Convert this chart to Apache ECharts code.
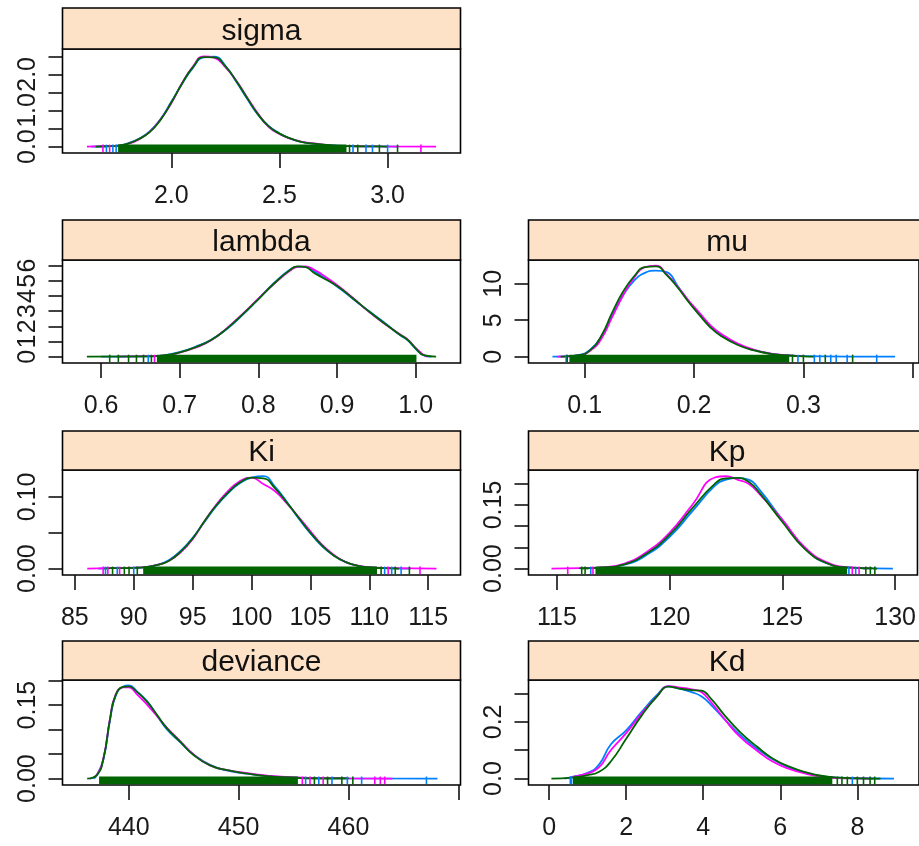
<!DOCTYPE html>
<html><head><meta charset="utf-8">
<script src="https://cdn.jsdelivr.net/npm/echarts@6/dist/echarts.min.js"></script>
<style>html,body{margin:0;padding:0;background:#fff}#c{width:919px;height:846px}</style>
</head><body><div id="c"></div><script>
// ---------- DATA ----------
const panelNames = ['sigma', 'lambda', 'mu', 'Ki', 'Kp', 'deviance', 'Kd'];
const chainColors = ['#0080ff', '#ff00ff', '#006400'];

// sigma
const sigmaX = [1.70,1.76,1.80,1.85,1.90,1.95,2.00,2.05,2.10,2.15,2.20,2.25,2.30,2.35,2.40,2.45,2.50,2.55,2.60,2.67,2.75,2.85,2.95];
const sigmaY = [
  [0.01,0.035,0.09,0.22,0.42,0.76,1.24,1.74,2.18,2.47,2.49,2.24,1.80,1.33,0.89,0.57,0.37,0.22,0.13,0.07,0.035,0.012,0.005],
  [0.012,0.03,0.075,0.20,0.41,0.75,1.20,1.76,2.22,2.50,2.46,2.20,1.83,1.37,0.92,0.55,0.35,0.22,0.14,0.08,0.03,0.01,0.006],
  [0.01,0.03,0.08,0.21,0.40,0.74,1.22,1.75,2.20,2.48,2.47,2.22,1.82,1.35,0.90,0.56,0.36,0.23,0.13,0.075,0.03,0.01,0.004]
];
const sigmaRange = [[1.63,3.05],[1.61,3.224],[1.65,3.0]];
const sigmaRugBand = [1.754, 2.81];
const sigmaRugTicks = [[1.684,1],[1.70,0],[1.715,1],[1.73,0],[1.745,0],[2.824,2],[2.84,0],[2.862,2],[2.90,0],[2.93,0],[2.962,2],[3.0,0],[3.046,2],[3.154,1]];
const sigmaXTicks = [2.0,2.5,3.0];
const sigmaYTicks = [0,0.5,1.0,1.5,2.0,2.5];
const sigmaYLabels = [0,1.0,2.0];

// lambda
const lambdaX = [0.66,0.68,0.70,0.72,0.74,0.76,0.78,0.80,0.82,0.84,0.85,0.86,0.87,0.88,0.90,0.92,0.94,0.96,0.98,0.99,1.00,1.01];
const lambdaY = [
  [0.02,0.09,0.30,0.65,1.12,1.82,2.75,3.80,4.85,5.72,5.93,5.92,5.65,5.32,4.62,3.82,3.02,2.25,1.42,1.08,0.52,0.10],
  [0.03,0.07,0.26,0.60,1.08,1.88,2.82,3.82,4.80,5.65,5.92,5.95,5.75,5.45,4.72,3.88,2.98,2.18,1.48,1.12,0.58,0.12],
  [0.02,0.08,0.28,0.62,1.10,1.85,2.78,3.78,4.82,5.70,5.95,5.90,5.55,5.25,4.65,3.85,3.00,2.20,1.45,1.10,0.55,0.10]
];
const lambdaRange = [[0.600,1.020],[0.620,1.015],[0.582,1.026]];
const lambdaRugBand = [0.671, 1.001];
const lambdaRugTicks = [[0.611,2],[0.622,2],[0.635,2],[0.645,2],[0.654,2],[0.660,0],[0.664,2],[0.668,1]];
const lambdaXTicks = [0.6,0.7,0.8,0.9,1.0];
const lambdaYTicks = [0,1,2,3,4,5,6];
const lambdaYLabels = [0,1,2,3,4,5,6];

// mu
const muX = [0.08,0.095,0.105,0.115,0.125,0.135,0.145,0.155,0.165,0.175,0.185,0.195,0.205,0.215,0.225,0.24,0.255,0.27,0.285,0.30];
const muY = [
  [0.03,0.25,0.95,2.7,5.6,8.4,10.4,11.5,11.8,11.6,9.7,7.6,5.8,4.2,3.0,1.7,0.9,0.4,0.2,0.08],
  [0.02,0.18,0.8,2.4,5.4,8.4,10.8,12.3,12.5,11.3,9.6,7.7,6.0,4.3,3.1,1.8,0.95,0.42,0.18,0.06],
  [0.02,0.2,0.9,2.8,6.0,8.9,11.0,12.3,12.4,11.2,9.5,7.5,5.7,4.0,2.8,1.6,0.85,0.38,0.16,0.05]
];
const muRange = [[0.0705,0.3838],[0.075,0.30],[0.078,0.31]];
const muRugBand = [0.086, 0.287];
const muRugTicks = [[0.083,0],[0.084,2],[0.29,2],[0.295,0],[0.30,2],[0.31,0],[0.315,0],[0.32,2],[0.325,0],[0.33,0],[0.34,0],[0.345,2],[0.367,0]];
const muXTicks = [0.1,0.2,0.3,0.4];
const muXLabels = [0.1,0.2,0.3];
const muYTicks = [0,5,10];
const muYLabels = [0,5,10];

// Ki
const KiX = [88,90,91,92,93,94,95,96,97,98,99,100,101,102,103,104,105,106,107,108,109,110,112];
const KiY = [
  [0.0005,0.001,0.002,0.005,0.012,0.025,0.043,0.065,0.087,0.105,0.119,0.127,0.129,0.114,0.093,0.070,0.049,0.031,0.018,0.009,0.004,0.0015,0.0003],
  [0.0006,0.0012,0.002,0.005,0.011,0.023,0.041,0.066,0.089,0.108,0.122,0.127,0.118,0.108,0.091,0.072,0.052,0.033,0.019,0.009,0.004,0.002,0.0005],
  [0.0005,0.001,0.002,0.005,0.011,0.024,0.042,0.066,0.088,0.106,0.120,0.127,0.126,0.112,0.092,0.071,0.050,0.032,0.018,0.009,0.004,0.0015,0.0003]
];
const KiRange = [[87,113.5],[86.05,115.7],[87.5,112.5]];
const KiRugBand = [90.8, 110.65];
const KiRugTicks = [[87.4,1],[87.6,0],[87.8,1],[88.2,2],[88.6,0],[88.8,1],[89.2,2],[89.6,2],[90.0,0],[90.3,2],[111.0,2],[111.3,0],[111.6,1],[111.9,0],[112.2,2],[112.7,0],[113.4,2],[114.3,1]];
const KiXTicks = [85,90,95,100,105,110,115];
const KiYTicks = [0,0.05,0.10];
const KiYLabels = [0,0.10];

// Kp
const KpX = [116,117,118,119,120,121,122,122.5,123,123.5,124,125,126,127,128,129];
const KpY = [
  [0.0005,0.002,0.009,0.033,0.075,0.135,0.195,0.210,0.214,0.210,0.185,0.115,0.048,0.012,0.002,0.0003],
  [0.0008,0.003,0.012,0.040,0.085,0.150,0.215,0.218,0.210,0.200,0.175,0.115,0.050,0.014,0.003,0.0005],
  [0.0005,0.002,0.010,0.036,0.080,0.142,0.200,0.213,0.214,0.205,0.178,0.110,0.046,0.012,0.002,0.0003]
];
const KpRange = [[116.2,129.9],[114.76,128.6],[116.4,129.2]];
const KpRugBand = [116.71, 127.87];
const KpRugTicks = [[115.48,1],[116.1,2],[116.25,2],[116.5,0],[116.6,1],[127.95,0],[128.1,1],[128.25,0],[128.4,1],[128.7,2],[128.9,2],[129.1,2]];
const KpXTicks = [115,120,125,130];
const KpYTicks = [0,0.05,0.10,0.15,0.20];
const KpYLabels = [0,0.15];

// deviance
const devianceX = [437.1,437.7,438.3,438.8,439.5,440,440.75,441.7,442.6,443.5,444.7,445.9,447.4,449,450.8,452.6,455.7,460];
const devianceY = [
  [0.007,0.040,0.120,0.168,0.188,0.190,0.178,0.157,0.128,0.100,0.074,0.049,0.028,0.016,0.010,0.005,0.0015,0.0004],
  [0.008,0.042,0.123,0.171,0.186,0.186,0.172,0.150,0.127,0.103,0.076,0.049,0.027,0.017,0.011,0.006,0.002,0.0005],
  [0.007,0.041,0.122,0.170,0.187,0.188,0.177,0.156,0.129,0.102,0.075,0.048,0.027,0.017,0.010,0.005,0.001,0.0002]
];
const devianceRange = [[436.8,468.1],[436.5,464],[436.22,456]];
const devianceRugBand = [437.3, 455.4];
const devianceRugTicks = [[455.8,1],[456.1,0],[456.5,1],[456.9,2],[457.3,0],[457.7,1],[458.1,2],[458.5,0],[459.4,2],[459.9,0],[460.4,2],[461.2,0],[462.4,1],[462.9,1],[463.3,1],[467.1,0]];
const devianceXTicks = [440,450,460,470];
const devianceXLabels = [440,450,460];
const devianceYTicks = [0,0.05,0.10,0.15,0.20];
const devianceYLabels = [0,0.15];

// Kd
const KdX = [0.6,1.0,1.3,1.6,2.0,2.4,2.8,3.1,3.35,3.7,3.95,4.2,4.55,4.95,5.4,5.8,6.25,6.7,7.1,7.5,8.0];
const KdY = [
  [0.006,0.02,0.05,0.12,0.17,0.235,0.295,0.325,0.318,0.305,0.29,0.26,0.21,0.155,0.105,0.068,0.038,0.018,0.008,0.003,0.001],
  [0.005,0.018,0.04,0.10,0.16,0.23,0.29,0.326,0.322,0.315,0.305,0.27,0.21,0.148,0.098,0.06,0.033,0.016,0.007,0.002,0.0008],
  [0.003,0.012,0.024,0.06,0.14,0.222,0.29,0.324,0.318,0.312,0.31,0.282,0.224,0.165,0.112,0.071,0.041,0.021,0.009,0.003,0.0008]
];
const KdRange = [[0.4,8.95],[0.5,8.4],[0.06,8.6]];
const KdRugBand = [0.616, 7.35];
const KdRugTicks = [[0.55,0],[0.58,0],[7.48,2],[7.6,2],[7.74,2],[7.87,0],[8.0,2],[8.16,2],[8.33,2],[8.45,2]];
const KdXTicks = [0,2,4,6,8];
const KdYTicks = [0,0.1,0.2,0.3];
const KdYLabels = [0,0.2];

// ---------- ASSEMBLY ----------
const panelData = [
  {x:sigmaX, y:sigmaY, r:sigmaRange, band:sigmaRugBand, ticks:sigmaRugTicks, xt:sigmaXTicks, xl:sigmaXTicks, yt:sigmaYTicks, yl:sigmaYLabels},
  {x:lambdaX, y:lambdaY, r:lambdaRange, band:lambdaRugBand, ticks:lambdaRugTicks, xt:lambdaXTicks, xl:lambdaXTicks, yt:lambdaYTicks, yl:lambdaYLabels},
  {x:muX, y:muY, r:muRange, band:muRugBand, ticks:muRugTicks, xt:muXTicks, xl:muXLabels, yt:muYTicks, yl:muYLabels},
  {x:KiX, y:KiY, r:KiRange, band:KiRugBand, ticks:KiRugTicks, xt:KiXTicks, xl:KiXTicks, yt:KiYTicks, yl:KiYLabels},
  {x:KpX, y:KpY, r:KpRange, band:KpRugBand, ticks:KpRugTicks, xt:KpXTicks, xl:KpXTicks, yt:KpYTicks, yl:KpYLabels},
  {x:devianceX, y:devianceY, r:devianceRange, band:devianceRugBand, ticks:devianceRugTicks, xt:devianceXTicks, xl:devianceXLabels, yt:devianceYTicks, yl:devianceYLabels},
  {x:KdX, y:KdY, r:KdRange, band:KdRugBand, ticks:KdRugTicks, xt:KdXTicks, xl:KdXTicks, yt:KdYTicks, yl:KdYLabels}
];

// layout (positions / limits / formatting)
const cell = [[0,0],[0,1],[1,1],[0,2],[1,2],[0,3],[1,3]];
const colLeft = [62.5, 528.5], colWidth = [398, 397];
const stripTop = [8, 220, 431, 641];
const panelTop = [49, 260, 470, 680];
const panelBottom = [153, 363, 575, 785];
const xLim = [[1.497,3.337],[0.551,1.057],[0.0486,0.4057],[83.95,117.74],[113.74,130.99],[433.97,470.2],[-0.535,9.6]];
const yLim = [[-0.177,2.703],[-0.4165,6.3665],[-0.868,13.268],[-0.009,0.1376],[-0.0152,0.2327],[-0.01316,0.2012],[-0.02275,0.3477]];
const xDec = [1,1,1,0,0,0,0];
const yDec = [1,0,0,2,2,2,1];
const FONT = 'Liberation Sans, Arial, sans-serif';

const grids = [], xAxes = [], yAxes = [], series = [], graphics = [];
panelData.forEach((p, i) => {
  const [c, r] = cell[i];
  grids.push({left: colLeft[c], top: panelTop[r], width: colWidth[c], height: panelBottom[r] - panelTop[r],
    show: true, borderColor: '#000', borderWidth: 1.6, backgroundColor: 'transparent', containLabel: false});
  xAxes.push({type: 'value', gridIndex: i, min: xLim[i][0], max: xLim[i][1], position: 'bottom',
    axisLine: {show: false, onZero: false}, splitLine: {show: false},
    axisTick: {show: true, length: 15, customValues: p.xt, lineStyle: {color: '#111', width: 1.6}},
    axisLabel: {show: true, customValues: p.xl, margin: 31, fontSize: 25, color: '#1a1a1a', fontFamily: FONT,
      formatter: v => Number(v).toFixed(xDec[i])}});
  yAxes.push({type: 'value', gridIndex: i, min: yLim[i][0], max: yLim[i][1], position: 'left',
    axisLine: {show: false, onZero: false}, splitLine: {show: false},
    axisTick: {show: true, length: 14, customValues: p.yt, lineStyle: {color: '#111', width: 1.6}},
    axisLabel: {show: true, customValues: p.yl, rotate: 90, margin: 22, fontSize: 25, color: '#1a1a1a', fontFamily: FONT,
      formatter: v => Number(v).toFixed(yDec[i])}});
  p.y.forEach((ys, k) => {
    const data = [[p.r[k][0], 0]];
    p.x.forEach((xv, j) => data.push([xv, ys[j]]));
    data.push([p.r[k][1], 0]);
    series.push({type: 'line', xAxisIndex: i, yAxisIndex: i, data, showSymbol: false, symbol: 'none',
      smooth: 0.5, silent: true, z: 2 + k,
      lineStyle: {color: chainColors[k], width: 1.8}});
  });
  const rugData = [[p.band[0], p.band[1], 2]].concat(p.ticks.map(t => [t[0], t[0], t[1]]));
  series.push({type: 'custom', xAxisIndex: i, yAxisIndex: i, data: rugData, z: 6, silent: true,
    encode: {x: [0, 1]},
    renderItem: (params, api) => {
      const cs = params.coordSys;
      const a = api.value(0), b = api.value(1), ci = api.value(2);
      const p1 = api.coord([a, 0]);
      const top = p1[1] - 2;
      const bottom = cs.y + cs.height - 0.8;
      if (b > a) {
        const p2 = api.coord([b, 0]);
        return {type: 'rect', shape: {x: p1[0], y: top, width: p2[0] - p1[0], height: bottom - top},
          style: {fill: chainColors[ci]}};
      }
      return {type: 'line', shape: {x1: p1[0], y1: top, x2: p1[0], y2: bottom},
        style: {stroke: chainColors[ci], lineWidth: 1.6}};
    }});
  // strip
  graphics.push({type: 'rect', shape: {x: colLeft[c], y: stripTop[r], width: colWidth[c], height: panelTop[r] - stripTop[r]},
    style: {fill: '#fde2c8', stroke: '#000', lineWidth: 1.6}, z: 10});
  graphics.push({type: 'text', x: colLeft[c] + colWidth[c] / 2, y: panelTop[r] - 17,
    style: {text: panelNames[i], fill: '#111', font: '30px ' + FONT, textAlign: 'center', textVerticalAlign: 'middle'}, z: 11});
});

const chart = echarts.init(document.getElementById('c'), null, {renderer: 'canvas'});
chart.setOption({animation: false, backgroundColor: '#fff', grid: grids, xAxis: xAxes, yAxis: yAxes, series, graphic: graphics});
</script></body></html>
